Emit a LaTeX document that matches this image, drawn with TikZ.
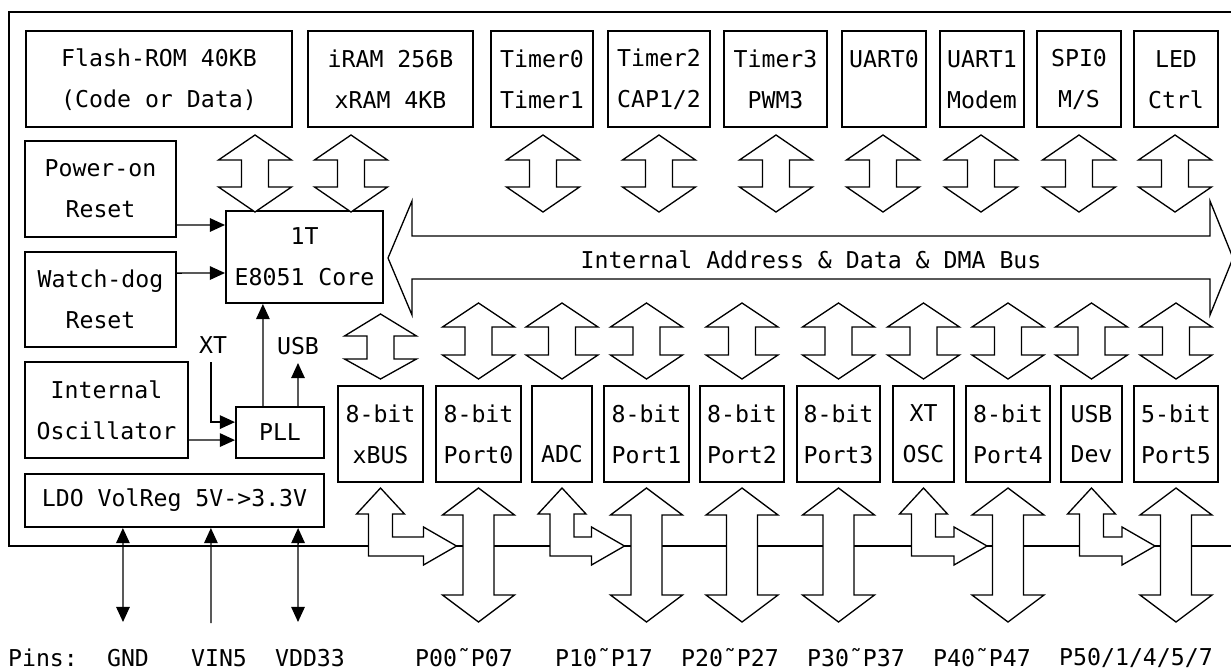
\documentclass[tikz,border=0pt]{standalone}
\usepackage{fontspec}
\setmainfont{DejaVu Sans Mono}
\usetikzlibrary{arrows.meta}

\tikzset{
  blk/.style={draw, line width=0.5mm, align=center, inner sep=0pt, minimum height=24mm},
  hollow/.style={draw, fill=white, line width=0.33mm, line join=miter},
  wire/.style={line width=0.33mm},
  >={Triangle[length=3.8mm,width=3.4mm]}
}

\begin{document}
\begin{tikzpicture}[x=0.25mm, y=-0.25mm, font=\fontsize{16.5}{29}\selectfont]
  \useasboundingbox (0,0) rectangle (1231,670);
  \clip (0,0) rectangle (1231,670);

  % chip outline, open to the right
  \draw[line width=0.45mm] (1240,12) -- (9,12) -- (9,546) -- (1240,546);

  % top row of blocks
  \node[blk, minimum width=66.5mm] (flash) at (159,79.5) {Flash-ROM 40KB\\(Code or Data)};
  \node[blk, minimum width=41.25mm] (iram) at (390.5,79.5) {iRAM 256B\\xRAM 4KB};
  \node[blk, minimum width=25.5mm] (tmr01) at (542,79.5) {Timer0\\Timer1};
  \node[blk, minimum width=25.5mm] (tmr2) at (659,79.5) {Timer2\\CAP1/2};
  \node[blk, minimum width=25.75mm] (tmr3) at (775.5,79.5) {Timer3\\PWM3};
  \node[blk, minimum width=21mm] (uart0) at (884,79.5) {UART0\\\phantom{X}};
  \node[blk, minimum width=21mm] (uart1) at (982,79.5) {UART1\\Modem};
  \node[blk, minimum width=21mm] (spi0) at (1079,79.5) {SPI0\\M/S};
  \node[blk, minimum width=21mm] (led) at (1176,79.5) {LED\\Ctrl};

  % left column
  \node[blk, minimum width=37.75mm] (por) at (100.5,189) {Power-on\\Reset};
  \node[blk, minimum width=37.75mm, minimum height=23.75mm] (wdog) at (100.5,299.5) {Watch-dog\\Reset};
  \node[blk, minimum width=39.25mm, minimum height=23mm] (core) at (304.5,257) {1T\\E8051 Core};
  \node[blk, minimum width=40.75mm] (osc) at (106.5,410) {Internal\\Oscillator};
  \node[blk, minimum width=22mm, minimum height=12.75mm] (pll) at (280,432.5) {PLL};
  \node[blk, minimum width=74.75mm, minimum height=13.25mm] (ldo) at (174.5,500.5) {LDO VolReg 5V->3.3V};

  % lower row of blocks
  \node[blk, minimum width=21.25mm] (xbus) at (380.5,434) {8-bit\\xBUS};
  \node[blk, minimum width=21.25mm] (port0) at (478.5,434) {8-bit\\Port0};
  \node[blk, minimum width=15mm] (adc) at (562,434) {\phantom{X}\\ADC};
  \node[blk, minimum width=21.25mm] (port1) at (646.5,434) {8-bit\\Port1};
  \node[blk, minimum width=21mm] (port2) at (742,434) {8-bit\\Port2};
  \node[blk, minimum width=20.75mm] (port3) at (838.5,434) {8-bit\\Port3};
  \node[blk, minimum width=15.25mm] (xtosc) at (923.5,434) {XT\\OSC};
  \node[blk, minimum width=21mm] (port4) at (1008,434) {8-bit\\Port4};
  \node[blk, minimum width=15.25mm] (usbdev) at (1091.5,434) {USB\\Dev};
  \node[blk, minimum width=21mm] (port5) at (1176,434) {5-bit\\Port5};

  % internal bus
  \draw[hollow] (388,258) -- (412,201) -- (412,236) -- (1210,236) -- (1210,201) -- (1233,258)
    -- (1210,315) -- (1210,279) -- (412,279) -- (412,315) -- cycle;
  \node (bus) at (811,260) {Internal Address \& Data \& DMA Bus};

  % block arrows to the top row
  \foreach \x in {255,351,543,659,776,883,981,1079,1175}{
    \draw[hollow, shift={(\x,0)}] (0,135) -- (36.5,160) -- (13.5,160) -- (13.5,187) -- (36.5,187)
      -- (0,212) -- (-36.5,187) -- (-13.5,187) -- (-13.5,160) -- (-36.5,160) -- cycle;
  }

  % block arrows to the lower row
  \foreach \x in {478.5,562,646.5,742,838.5,923.5,1008,1091.5,1176}{
    \draw[hollow, shift={(\x,0)}] (0,303) -- (36,327) -- (13.5,327) -- (13.5,355) -- (36,355)
      -- (0,379) -- (-36,355) -- (-13.5,355) -- (-13.5,327) -- (-36,327) -- cycle;
  }
  \draw[hollow, shift={(380.5,0)}] (0,314) -- (36,336) -- (13.5,336) -- (13.5,359) -- (36,359)
    -- (0,379) -- (-36,359) -- (-13.5,359) -- (-13.5,336) -- (-36,336) -- cycle;

  % port pins
  \foreach \x in {478.5,646.5,742,838.5,1008,1176}{
    \draw[hollow, shift={(\x,0)}] (0,488) -- (36,515) -- (15.5,515) -- (15.5,595) -- (36,595)
      -- (0,622) -- (-36,595) -- (-15.5,595) -- (-15.5,515) -- (-36,515) -- cycle;
  }
  \foreach \c/\t in {380.5/456.5, 562/624.5, 923.5/987, 1091.5/1155}{
    \draw[hollow] (\c,488) -- ({\c+24},514) -- ({\c+12},514) -- ({\c+12},537) -- ({\t-33},537)
      -- ({\t-33},527) -- (\t,546) -- ({\t-33},565) -- ({\t-33},556) -- ({\c-12},556)
      -- ({\c-12},514) -- ({\c-24},514) -- cycle;
  }

  % resets and clocks
  \draw[wire, ->] ([yshift=-9mm]por.east) -- ([yshift=8mm]core.west);
  \draw[wire, ->] ([yshift=6.6mm]wdog.east) -- ([yshift=-4mm]core.west);
  \draw[wire, ->] ([xshift=-4.25mm]pll.north) -- ([xshift=-10.4mm]core.south);
  \node (xt) at (213,345) {XT};
  \node (usb) at (298,346) {USB};
  \coordinate (xtin) at (211,362);
  \coordinate (usbout) at (298,363);
  \draw[wire, ->] (xtin) |- ([yshift=2.6mm]pll.west);
  \draw[wire, ->] ([yshift=-7.5mm]osc.east) -- ([yshift=-1.9mm]pll.west);
  \draw[wire, ->] ([xshift=4.5mm]pll.north) -- (usbout);

  % power pins
  \coordinate (gndpin) at (123,622);
  \coordinate (vinpin) at (211,623);
  \coordinate (vddpin) at (298,622);
  \draw[wire, <->] ([xshift=-12.9mm]ldo.south) -- (gndpin);
  \draw[wire, ->] (vinpin) -- ([xshift=9.1mm]ldo.south);
  \draw[wire, <->] ([xshift=30.9mm]ldo.south) -- (vddpin);

  \foreach \x/\t [count=\i] in {43/Pins:, 128/GND, 219/VIN5, 310/VDD33, 464/P00˜P07, 604/P10˜P17,
      730/P20˜P27, 856/P30˜P37, 982/P40˜P47, 1136/{P50/1/4/5/7}}{
    \node (pin\i) at (\x,658) {\t};
  }
\end{tikzpicture}
\end{document}
